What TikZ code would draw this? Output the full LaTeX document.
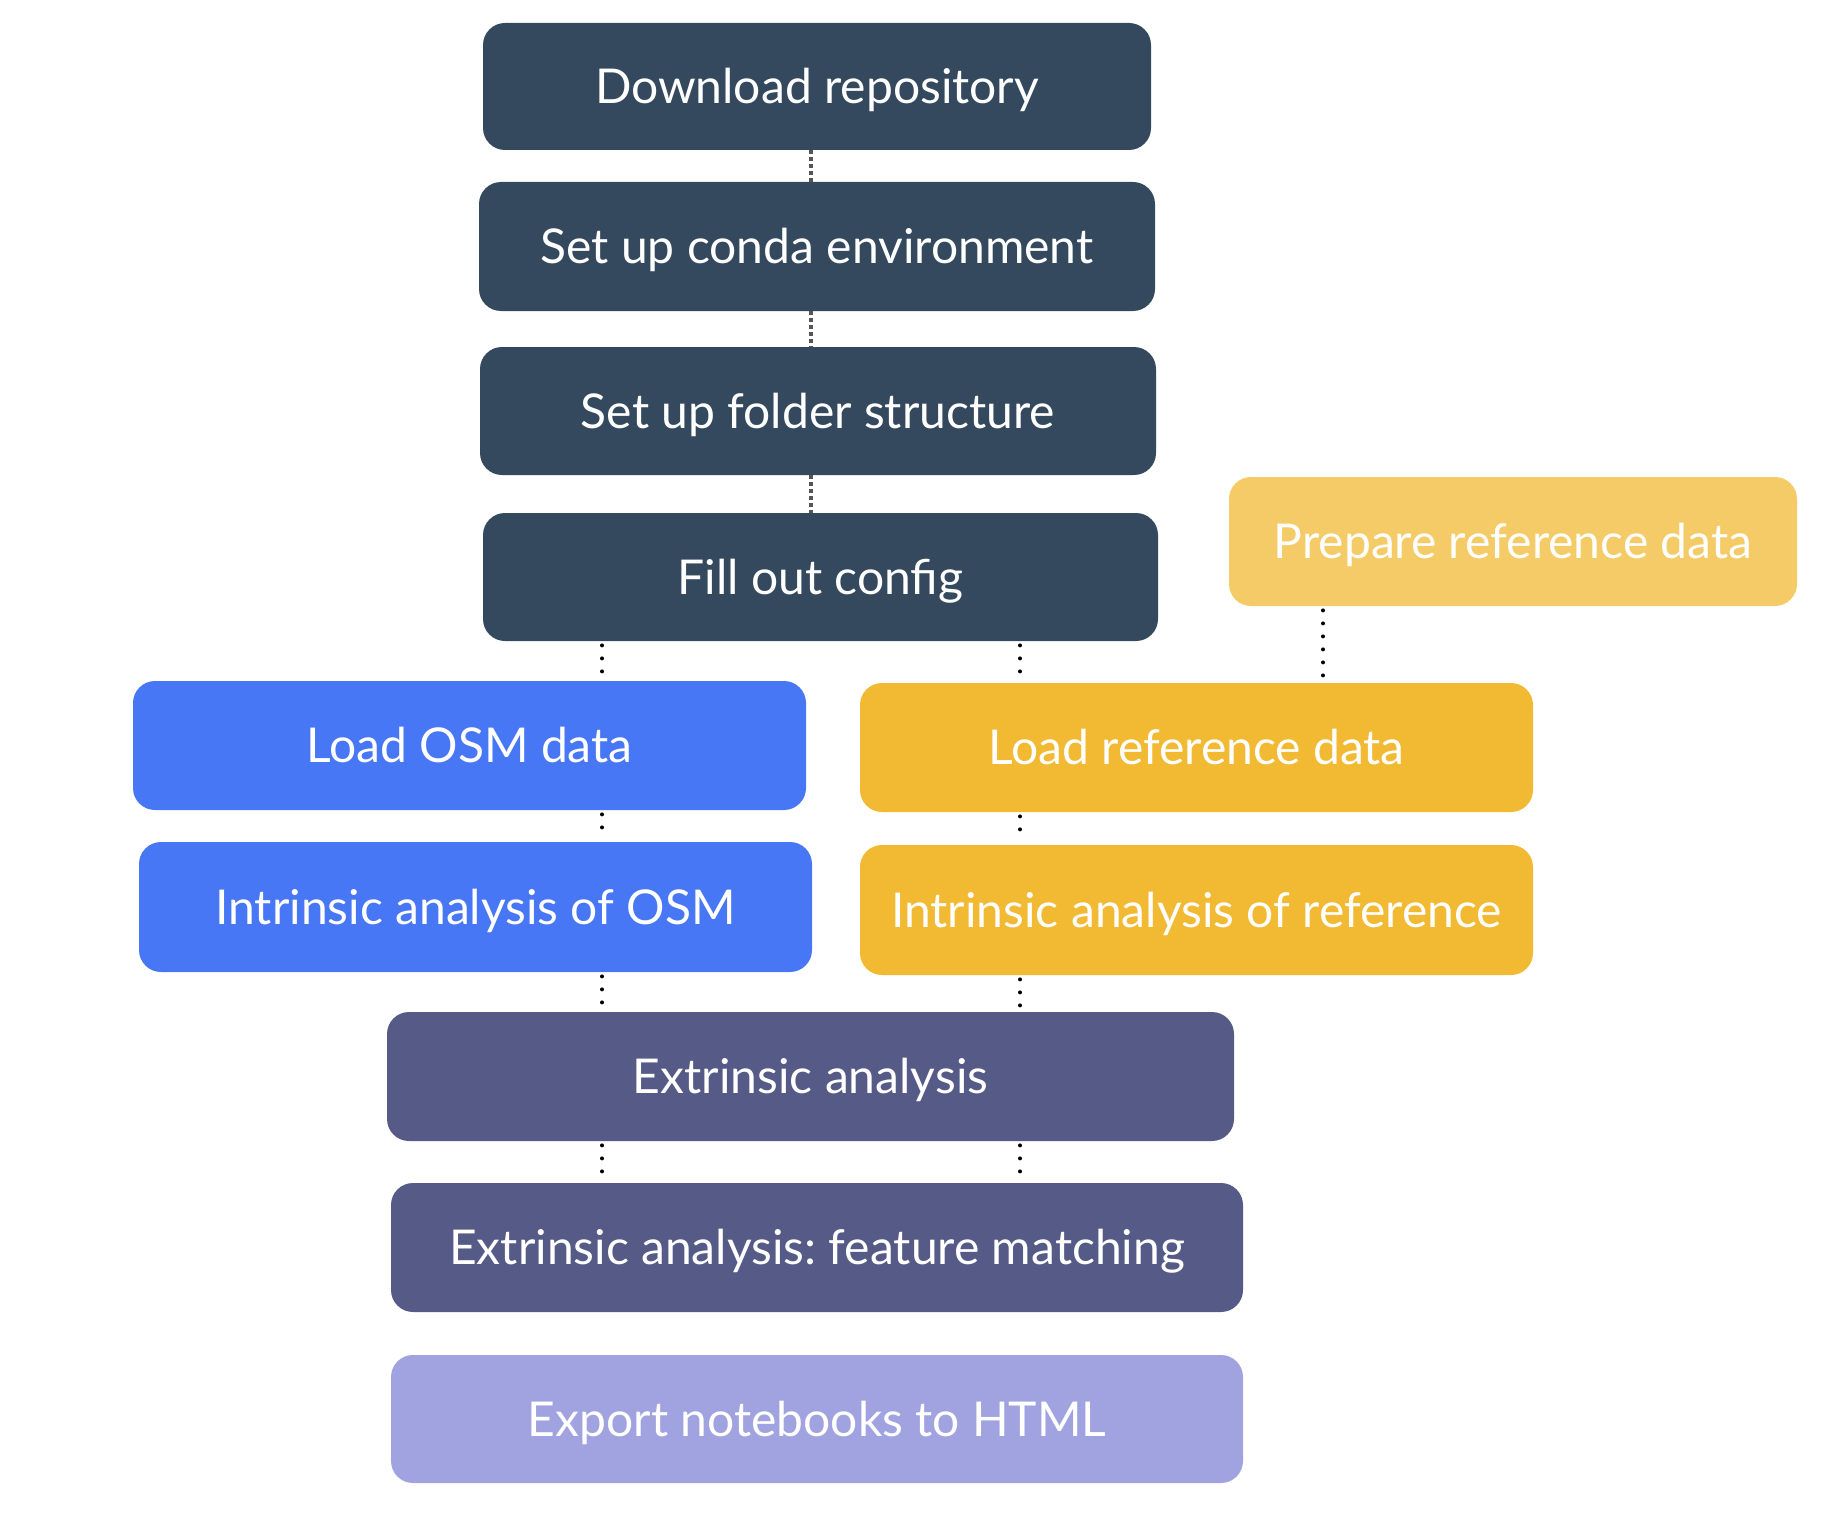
\documentclass[tikz,border=0pt]{standalone}
\usepackage{fontspec}
\setmainfont{Lato}
\definecolor{navy}{HTML}{34495E}
\definecolor{bblue}{HTML}{4877F5}
\definecolor{yel}{HTML}{F2B933}
\definecolor{lyel}{HTML}{F4CB67}
\definecolor{purp}{HTML}{555A87}
\definecolor{lpurp}{HTML}{A1A3E0}
\definecolor{dashgray}{HTML}{555555}
\frenchspacing
\begin{document}
\begin{tikzpicture}[x=0.5pt,y=-0.5pt,
  box/.style={rounded corners=11pt, inner sep=0pt, text=white,
    font=\fontsize{24}{28}\selectfont, text height=17.2pt, text depth=0pt},
  dotl/.style={draw=black, line width=2pt, dash pattern=on 0pt off 6.5pt,
    line cap=round, shorten <=2pt, shorten >=2pt},
  graydash/.style={draw=dashgray, line width=2pt, dash pattern=on 2pt off 1.5pt}]
\useasboundingbox (0,0) rectangle (1836,1530);
\node[box, fill=navy, minimum width=334pt, minimum height=63.5pt] (dl) at (817,86.5) {Download repository};
\node[box, fill=navy, minimum width=338pt, minimum height=64.5pt] (conda) at (817,246.5) {Set up conda environment};
\node[box, fill=navy, minimum width=338pt, minimum height=64pt] (folder) at (818,411) {Set up folder structure};
\node[box, fill=navy, minimum width=337.5pt, minimum height=64pt] (fill) at (820.5,577) {Fill out config};
\node[box, fill=lyel, minimum width=284pt, minimum height=64.5pt] (prep) at (1513,541.5) {Prepare reference data};
\node[box, fill=bblue, minimum width=336.5pt, minimum height=64.5pt] (osm) at (469.5,745.5) {Load OSM data};
\node[box, fill=yel, minimum width=336.5pt, minimum height=64.5pt] (lref) at (1196.5,747.5) {Load reference data};
\node[box, fill=bblue, minimum width=336.5pt, minimum height=65pt] (iosm) at (475.5,907) {Intrinsic analysis of OSM};
\node[box, fill=yel, minimum width=336.5pt, minimum height=65pt] (iref) at (1196.5,910) {Intrinsic analysis of reference};
\node[box, fill=purp, minimum width=423.5pt, minimum height=64.5pt] (ext) at (810.5,1076.5) {Extrinsic analysis};
\node[box, fill=purp, minimum width=426pt, minimum height=64.5pt] (feat) at (817,1247.5) {Extrinsic analysis: feature matching};
\node[box, fill=lpurp, minimum width=426pt, minimum height=64pt] (export) at (817,1419) {Export notebooks to HTML};
\coordinate (gx) at (811,0);
\coordinate (lx) at (602,0);
\coordinate (rx) at (1020,0);
\coordinate (px) at (1323,0);
\draw[graydash] (dl.south -| gx) -- (conda.north -| gx);
\draw[graydash] (conda.south -| gx) -- (folder.north -| gx);
\draw[graydash] (folder.south -| gx) -- (fill.north -| gx);
\draw[dotl] (fill.south -| lx) -- (osm.north -| lx);
\draw[dotl] (osm.south -| lx) -- (iosm.north -| lx);
\draw[dotl] (iosm.south -| lx) -- (ext.north -| lx);
\draw[dotl] (ext.south -| lx) -- (feat.north -| lx);
\draw[dotl] (fill.south -| rx) -- (lref.north -| rx);
\draw[dotl] (lref.south -| rx) -- (iref.north -| rx);
\draw[dotl] (iref.south -| rx) -- (ext.north -| rx);
\draw[dotl] (ext.south -| rx) -- (feat.north -| rx);
\draw[dotl] (prep.south -| px) -- (lref.north -| px);
\end{tikzpicture}
\end{document}
